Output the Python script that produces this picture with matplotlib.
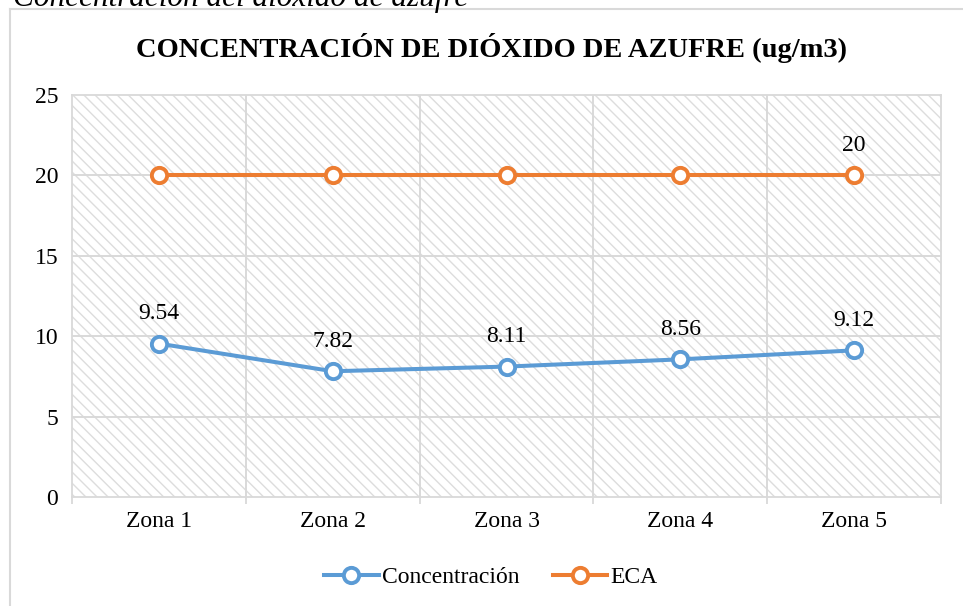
import matplotlib
matplotlib.use("Agg")
import matplotlib.pyplot as plt
from matplotlib.patches import Rectangle
from matplotlib.lines import Line2D

plt.rcParams['font.family'] = ['Liberation Serif', 'DejaVu Serif']
plt.rcParams['hatch.linewidth'] = 1.0

categories = ["Zona 1", "Zona 2", "Zona 3", "Zona 4", "Zona 5"]
concentracion = [9.54, 7.82, 8.11, 8.56, 9.12]
eca = [20, 20, 20, 20, 20]
yticks = [0, 5, 10, 15, 20, 25]

W, H = 963, 606
fig = plt.figure(figsize=(W / 100, H / 100), dpi=100)

# outer chart border
fig.add_artist(Line2D([10 / W, 10 / W], [0, 1 - 9 / H], color='#D9D9D9', lw=1.5))
fig.add_artist(Line2D([10 / W, 1], [1 - 9 / H, 1 - 9 / H], color='#D9D9D9', lw=1.5))

# cropped caption at the top
fig.text(13 / W, 1 - 6 / H, "Concentración del dióxido de azufre", fontsize=22.5,
         style='italic', ha='left', va='baseline')

ax = fig.add_axes([72 / W, 1 - 497 / H, (941 - 72) / W, (497 - 95) / H])

bg = Rectangle((0, 0), 1, 1, transform=ax.transAxes, facecolor='white',
               edgecolor='#DDDDDD', hatch='\\' * 3, lw=0, zorder=0)
ax.add_patch(bg)

x = [i + 0.5 for i in range(len(categories))]
ax.set_xlim(0, len(categories))
ax.set_ylim(0, 25)

for s in ax.spines.values():
    s.set_color('#D9D9D9')
    s.set_linewidth(1.3)

ax.set_yticks(yticks)
ax.set_yticklabels([str(v) for v in yticks], fontsize=17)
ax.tick_params(axis='y', length=0, pad=10)
ax.set_xticks(x)
ax.set_xticklabels(categories, fontsize=17)
ax.tick_params(axis='x', which='major', length=0, pad=10)
ax.set_xticks(range(len(categories) + 1), minor=True)
ax.tick_params(axis='x', which='minor', length=5, color='#D9D9D9', width=1.3)

for v in yticks[1:-1]:
    ax.axhline(v, color='#D9D9D9', lw=1.4, zorder=1)
for v in range(1, len(categories)):
    ax.axvline(v, color='#D9D9D9', lw=1.4, zorder=1)

ax.plot(x, concentracion, color='#5B9BD5', lw=2.9, marker='o', ms=11,
        mfc='white', mec='#5B9BD5', mew=2.8, label='Concentración', zorder=3)
ax.plot(x, eca, color='#ED7D31', lw=2.9, marker='o', ms=11,
        mfc='white', mec='#ED7D31', mew=2.8, label='ECA', zorder=3)

for xi, v in zip(x, concentracion):
    ax.annotate(f"{v:.2f}", (xi, v), xytext=(0, 14), textcoords='offset points',
                ha='center', va='bottom', fontsize=17)
ax.annotate(f"{eca[-1]:g}", (x[-1], eca[-1]), xytext=(0, 14), textcoords='offset points',
            ha='center', va='bottom', fontsize=17)

fig.text(491 / W, 1 - 48 / H, "CONCENTRACIÓN DE DIÓXIDO DE AZUFRE (ug/m3)",
         fontsize=20.5, fontweight='bold', ha='center', va='center')

fig.legend(loc='center', bbox_to_anchor=(491 / W, 1 - 577 / H), ncol=2, frameon=False,
           fontsize=17, handlelength=2.3, columnspacing=1.4, handletextpad=0.15)

fig.savefig("out.png", dpi=100)
